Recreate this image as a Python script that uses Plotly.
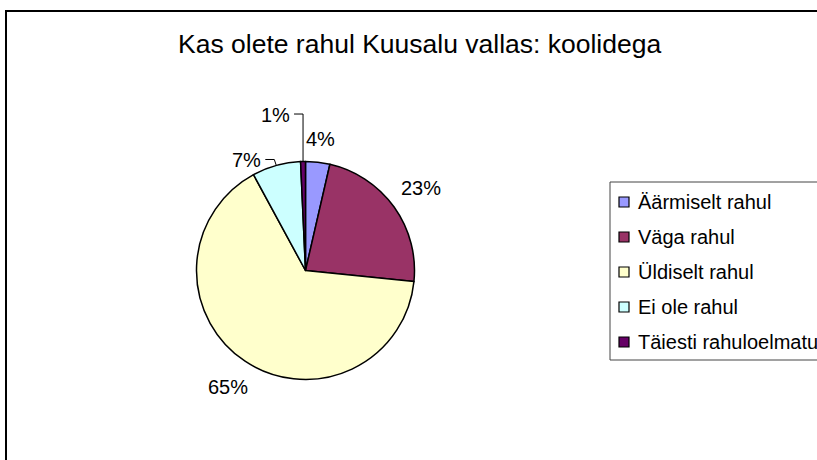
import math
import plotly.graph_objects as go

# ---- data ----
title_text = "Kas olete rahul Kuusalu vallas: koolidega"
categories = ["Äärmiselt rahul", "Väga rahul", "Üldiselt rahul", "Ei ole rahul", "Täiesti rahuloelmatu"]
values = [5, 32, 91, 10, 1]
colors = ["#9999FF", "#993366", "#FFFFCC", "#CCFFFF", "#660066"]

# ---- layout geometry (pixels) ----
W, H = 817, 460
CX, CY, R = 305.5, 270.5, 109.0
FONT = "Liberation Sans, Arial, Helvetica, sans-serif"


def px(x):
    return x / W


def py(y):
    return 1 - y / H


fig = go.Figure()
fig.add_trace(go.Pie(
    labels=categories,
    values=values,
    sort=False,
    direction="clockwise",
    rotation=0,
    textinfo="none",
    hoverinfo="label+percent",
    marker=dict(colors=colors, line=dict(color="#000000", width=1.5)),
    domain=dict(x=[px(CX - R), px(CX + R)], y=[py(CY + R), py(CY - R)]),
    showlegend=False,
))

total = sum(values)
annotations = []
shapes = []

# chart outer border (extends beyond the right and bottom edges)
shapes.append(dict(type="rect", xref="paper", yref="paper",
                   x0=px(6), x1=px(840), y0=py(11), y1=py(480),
                   line=dict(color="#000000", width=2), fillcolor="rgba(0,0,0,0)"))

# title
annotations.append(dict(text=title_text, x=px(419), y=py(44), xref="paper", yref="paper",
                        xanchor="center", yanchor="middle", showarrow=False,
                        font=dict(family=FONT, size=26.5, color="#000000")))

# percentage labels
cum = 0
label_r = [1.21, 1.30, 1.28, None, None]
for i, v in enumerate(values):
    frac_mid = (cum + v / 2) / total
    cum += v
    th = 2 * math.pi * frac_mid
    pct = f"{round(100 * v / total):d}%"
    ex = CX + R * math.sin(th)
    ey = CY - R * math.cos(th)
    if label_r[i] is not None:
        lx = CX + R * label_r[i] * math.sin(th)
        ly = CY - R * label_r[i] * math.cos(th)
        annotations.append(dict(text=pct, x=px(lx), y=py(ly), xref="paper", yref="paper",
                                xanchor="center", yanchor="middle", showarrow=False,
                                font=dict(family=FONT, size=20, color="#000000")))
    else:
        if i == 3:
            p1 = (ex - 2, ey - 6)
            p2 = (ex - 11, ey - 6)
        else:
            p1 = (ex, ey - 47.5)
            p2 = (ex - 9, ey - 47.5)
        path = (f"M {px(ex)},{py(ey)} L {px(p1[0])},{py(p1[1])} "
                f"L {px(p2[0])},{py(p2[1])}")
        shapes.append(dict(type="path", xref="paper", yref="paper", path=path,
                           line=dict(color="#000000", width=1)))
        annotations.append(dict(text=pct, x=px(p2[0] - 2), y=py(p2[1] + 0.5),
                                xref="paper", yref="paper",
                                xanchor="right", yanchor="middle", showarrow=False,
                                font=dict(family=FONT, size=20, color="#000000")))

# custom legend
shapes.append(dict(type="rect", xref="paper", yref="paper",
                   x0=px(610), x1=px(840), y0=py(182), y1=py(360),
                   line=dict(color="#444444", width=1), fillcolor="rgba(0,0,0,0)"))
for i, (lab, col) in enumerate(zip(categories, colors)):
    yc = 202 + 35 * i
    shapes.append(dict(type="rect", xref="paper", yref="paper",
                       x0=px(619), x1=px(629), y0=py(yc + 5), y1=py(yc - 5),
                       line=dict(color="#000000", width=1.2), fillcolor=col))
    annotations.append(dict(text=lab, x=px(636), y=py(yc), xref="paper", yref="paper",
                            xanchor="left", yanchor="middle", showarrow=False,
                            font=dict(family=FONT, size=20, color="#000000")))

fig.update_layout(
    width=W, height=H, autosize=False,
    margin=dict(l=0, r=0, t=0, b=0),
    paper_bgcolor="#FFFFFF", plot_bgcolor="#FFFFFF",
    shapes=shapes, annotations=annotations,
    showlegend=False,
)

fig.write_html("out.html", config={"displayModeBar": False},
               post_script="document.body.style.margin='0';document.body.style.overflow='hidden';")
